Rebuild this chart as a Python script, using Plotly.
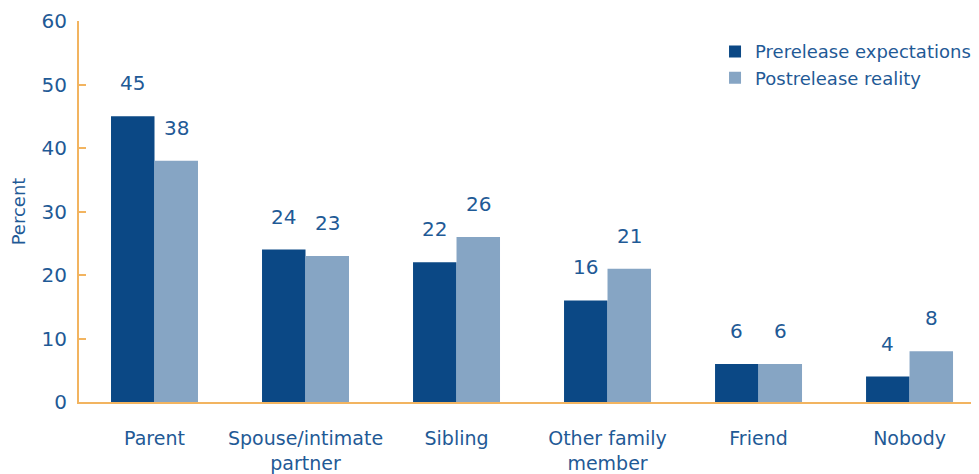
import plotly.graph_objects as go

categories = ["Parent", "Spouse/intimate<br>partner", "Sibling", "Other family<br>member", "Friend", "Nobody"]
prerelease = [45, 24, 22, 16, 6, 4]
postrelease = [38, 23, 26, 21, 6, 8]
series_names = ["Prerelease expectations", "Postrelease reality"]
y_ticks = [0, 10, 20, 30, 40, 50, 60]

dark = "#0B4885"
light = "#86A5C4"
txt = "#1F5A96"
orange = "#F2B460"
font_family = "DejaVu Sans, Liberation Sans, Arial, sans-serif"

x_idx = list(range(len(categories)))

fig = go.Figure()
fig.add_trace(go.Bar(x=x_idx, y=prerelease, name=series_names[0], marker_color=dark,
                     marker_line_width=0))
fig.add_trace(go.Bar(x=x_idx, y=postrelease, name=series_names[1], marker_color=light,
                     marker_line_width=0))

bargap = 0.424
half = (1 - bargap) / 4
annotations = []
for i in x_idx:
    for vals, off in ((prerelease, -half), (postrelease, half)):
        annotations.append(dict(x=i + off, y=vals[i], text=str(vals[i]), showarrow=False,
                                yshift=33, xref="x", yref="y",
                                font=dict(size=20, color=txt, family=font_family)))

# page body has an 8px default margin; figure sized to fill the 979x474 window
fig.update_layout(
    width=971, height=466,
    margin=dict(l=71, r=0, t=13, b=72, autoexpand=False),
    plot_bgcolor="white", paper_bgcolor="white",
    barmode="group", bargap=bargap, bargroupgap=0,
    font=dict(family=font_family, color=txt, size=18),
    showlegend=True,
    legend=dict(x=0.7067, y=0.968, xanchor="left", yanchor="top", bgcolor="rgba(0,0,0,0)",
                font=dict(size=18, color=txt), traceorder="normal",
                itemwidth=30, tracegroupgap=0),
    annotations=annotations,
    xaxis=dict(
        tickmode="array", tickvals=x_idx, ticktext=categories,
        range=[-0.5, 5.46], showgrid=False, zeroline=False, automargin=False,
        showline=True, linecolor=orange, linewidth=2,
        ticks="", ticklabelstandoff=18,
        tickfont=dict(size=19, color=txt),
    ),
    yaxis=dict(
        range=[0, 60], tickvals=y_ticks, showgrid=False, zeroline=False, automargin=False,
        showline=True, linecolor=orange, linewidth=2,
        ticks="inside", ticklen=7, tickcolor=orange, tickwidth=2,
        ticklabelstandoff=6,
        tickfont=dict(size=20, color=txt),
        title=dict(text="Percent", font=dict(size=18, color=txt), standoff=12),
    ),
)

fig.write_html("out.html")
